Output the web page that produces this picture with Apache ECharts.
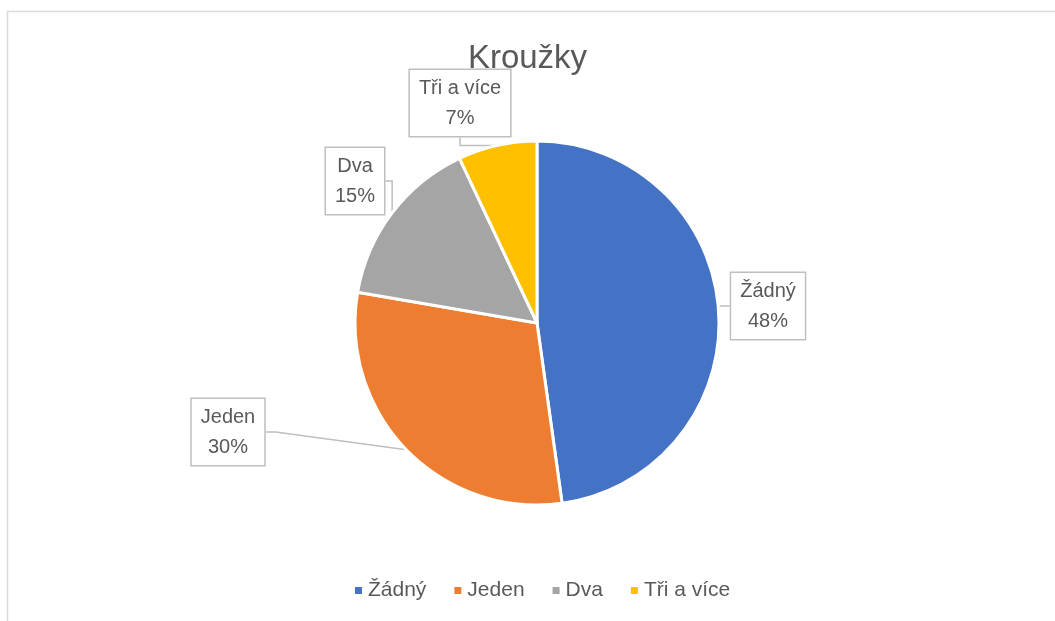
<!DOCTYPE html>
<html>
<head>
<meta charset="utf-8">
<script src="https://cdn.jsdelivr.net/npm/echarts@6/dist/echarts.min.js"></script>
<style>
  html, body { margin: 0; padding: 0; background: #fff; }
  #chart { width: 1055px; height: 621px; }
</style>
</head>
<body>
<div id="chart"></div>
<script>
// data (share of pupils by number of clubs)
const categories = ["Žádný", "Jeden", "Dva", "Tři a více"];
const values = [47.8, 29.9, 15.3, 7.0];
const colors = ["#4472C4", "#ED7D31", "#A5A5A5", "#FFC000"];

// where each callout box sits (centre of box)
const calloutPos = [[768, 306], [228, 432], [355, 181], [460, 103]];

const textColor = "#595959";
const fontFamily = "Liberation Sans";

const chart = echarts.init(document.getElementById("chart"), null, { renderer: "canvas" });

const option = {
    animation: false,
    color: colors,
    textStyle: { fontFamily: fontFamily },
    title: {
        text: "Kroužky",
        left: "center",
        top: 37,
        textStyle: { fontFamily: fontFamily, fontSize: 33, fontWeight: "normal", color: textColor }
    },
    graphic: [
        {
            type: "rect",
            shape: { x: 7.5, y: 11.5, width: 1100, height: 700 },
            style: { fill: "none", stroke: "#d9d9d9", lineWidth: 1.5 },
            silent: true
        }
    ],
    legend: {
        top: 575,
        left: 348,
        icon: "rect",
        itemWidth: 9,
        itemHeight: 9,
        itemGap: 26,
        textStyle: { fontFamily: fontFamily, fontSize: 21, color: textColor },
        data: categories
    },
    series: [
        {
            type: "pie",
            center: [537, 323],
            radius: 182,
            startAngle: 90,
            clockwise: true,
            data: categories.map((name, i) => ({ name: name, value: values[i] })),
            itemStyle: { borderColor: "#fff", borderWidth: 3 },
            label: {
                show: true,
                formatter: (p) => `${p.name}\n${Math.round(p.percent)}%`,
                fontFamily: fontFamily,
                fontSize: 20,
                lineHeight: 30,
                color: textColor,
                align: "center",
                backgroundColor: "#fff",
                borderColor: "#bfbfbf",
                borderWidth: 1.5,
                padding: [3, 9, 3, 9]
            },
            labelLine: {
                show: true,
                length: 10,
                length2: 10,
                lineStyle: { color: "#bfbfbf", width: 1.5 }
            },
            labelLayout: function (params) {
                const pos = calloutPos[params.dataIndex];
                return { x: pos[0], y: pos[1], align: "center", verticalAlign: "middle" };
            },
            emphasis: { disabled: true }
        }
    ]
};
chart.setOption(option);
</script>
</body>
</html>
